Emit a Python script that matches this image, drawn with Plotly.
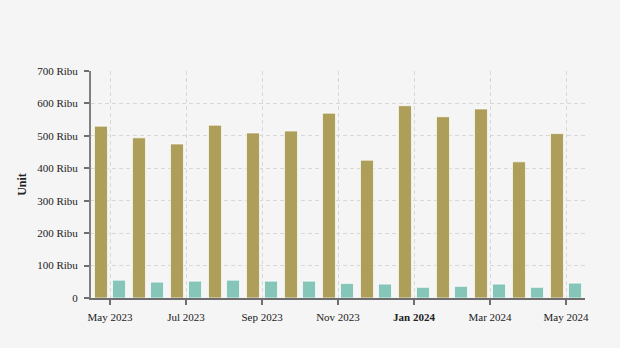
import plotly.graph_objects as go

# Monthly volumes, in thousands of units
months = ["May 2023", "Jun 2023", "Jul 2023", "Aug 2023", "Sep 2023", "Oct 2023",
          "Nov 2023", "Dec 2023", "Jan 2024", "Feb 2024", "Mar 2024", "Apr 2024", "May 2024"]
series_a = [530, 494, 475, 533, 509, 515, 570, 425, 593, 559, 583, 420, 507]
series_b = [55, 49, 52, 55, 52, 52, 45, 43, 33, 36, 43, 33, 46]

x_tickvals = ["May 2023", "Jul 2023", "Sep 2023", "Nov 2023", "Jan 2024", "Mar 2024", "May 2024"]
x_ticktext = ["May 2023", "Jul 2023", "Sep 2023", "Nov 2023", "<b>Jan 2024</b>", "Mar 2024", "May 2024"]
y_tickvals = [0, 100, 200, 300, 400, 500, 600, 700]
y_ticktext = ["0"] + [f"{v} Ribu" for v in y_tickvals[1:]]

FONT = "Liberation Serif, Times New Roman, serif"
BG = "#f5f5f5"

fig = go.Figure()
fig.add_bar(x=months, y=series_a, name="Domestik",
            marker=dict(color="#ad9f5a", line=dict(color="rgba(255,255,255,0.7)", width=1)))
fig.add_bar(x=months, y=series_b, name="Ekspor",
            marker=dict(color="#85c6b9", line=dict(color="rgba(255,255,255,0.7)", width=1)))

fig.update_layout(
    width=620, height=348,
    margin=dict(l=91, r=35, t=71, b=50),
    paper_bgcolor=BG, plot_bgcolor=BG,
    barmode="group", bargap=0.05, bargroupgap=0.28,
    showlegend=False,
    font=dict(family=FONT, size=11, color="#222"),
)
fig.update_xaxes(
    type="category", range=[-0.5, 12.5],
    tickmode="array", tickvals=x_tickvals, ticktext=x_ticktext,
    showline=True, linecolor="#6e6e6e", linewidth=2,
    ticks="outside", ticklen=5, tickwidth=2, tickcolor="#6e6e6e",
    ticklabelstandoff=3,
    showgrid=True, gridcolor="#d8d8d8", gridwidth=1, griddash="4px,3px",
    tickfont=dict(family=FONT, size=11, color="#222"),
)
fig.update_yaxes(
    range=[0, 700],
    tickmode="array", tickvals=y_tickvals, ticktext=y_ticktext,
    showline=True, linecolor="#808080", linewidth=2,
    ticks="outside", ticklen=5, tickwidth=2, tickcolor="#6e6e6e",
    ticklabelstandoff=4,
    showgrid=True, gridcolor="#d8d8d8", gridwidth=1, griddash="4px,3px",
    zeroline=False,
    title=dict(text="<b>Unit</b>", font=dict(family=FONT, size=12, color="#222"), standoff=8),
    tickfont=dict(family=FONT, size=11, color="#222"),
)

fig.write_html("out.html")
